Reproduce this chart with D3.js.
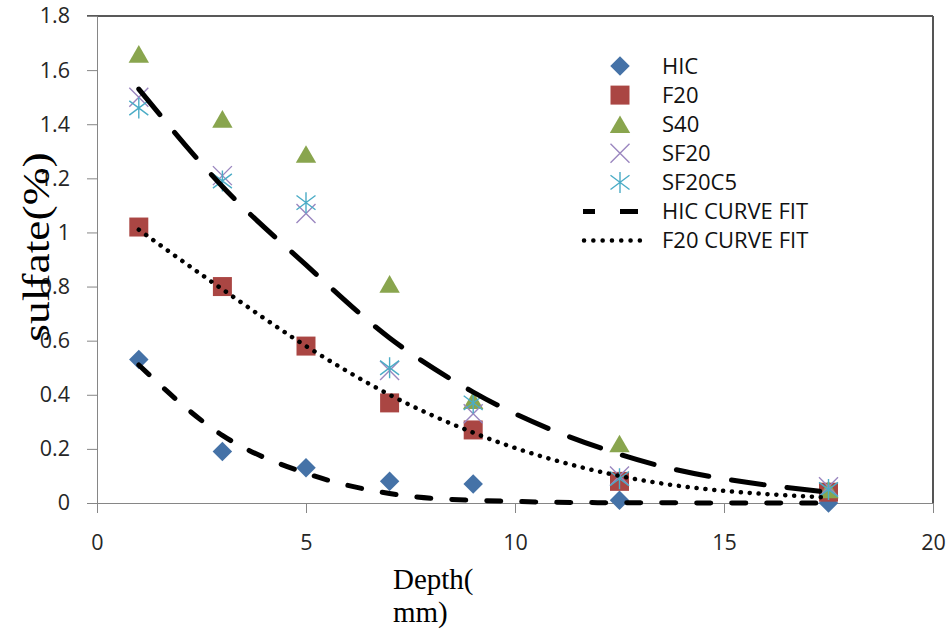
<!DOCTYPE html>
<html>
<head>
<meta charset="utf-8">
<script src="https://cdn.jsdelivr.net/npm/d3@7"></script>
<style>
  html, body { margin: 0; padding: 0; background: #fff; }
  svg { display: block; }
</style>
</head>
<body>
<svg id="chart" width="949" height="629"></svg>
<script>
// Sulfate content versus depth for each mix, with fitted curves
const depth   = [1, 3, 5, 7, 9, 12.5, 17.5];
const hic     = [0.53, 0.19, 0.13, 0.08, 0.07, 0.01, 0.00];
const f20     = [1.02, 0.80, 0.58, 0.37, 0.27, 0.08, 0.04];
const s40     = [1.66, 1.42, 1.29, 0.81, 0.38, 0.22, 0.05];
const sf20    = [1.50, 1.21, 1.07, 0.49, 0.33, 0.10, 0.06];
const sf20c5  = [1.46, 1.19, 1.11, 0.50, 0.37, 0.09, 0.05];
const hicFit  = [0.51, 0.25, 0.11, 0.035, 0.01, 0.001, 0.00];
const f20Fit  = [1.01, 0.79, 0.58, 0.40, 0.26, 0.10, 0.02];
const sfFit   = [1.53, 1.17, 0.88, 0.61, 0.41, 0.18, 0.04];

const xTicks = [0, 5, 10, 15, 20];
const yTicks = [0, 0.2, 0.4, 0.6, 0.8, 1, 1.2, 1.4, 1.6, 1.8];
const yTickLabels = ["0", "0.2", "0.4", "0.6", "0.8", "1", "1.2", "1.4", "1.6", "1.8"];

const legendNames = ["HIC", "F20", "S40", "SF20", "SF20C5", "HIC CURVE FIT", "F20 CURVE FIT"];

const svg = d3.select("#chart");
const plotLeft = 97, plotRight = 933, plotTop = 16, plotBottom = 503;

const x = d3.scaleLinear().domain([0, 20]).range([plotLeft, plotRight]);
const y = d3.scaleLinear().domain([0, 1.8]).range([plotBottom, plotTop]);

const tickFont = "'Open Sans', 'Liberation Sans', sans-serif";

// Plot frame: top and right edges
svg.append("line").attr("x1", plotLeft - 10).attr("x2", plotRight).attr("y1", plotTop).attr("y2", plotTop)
  .attr("stroke", "#222").attr("stroke-width", 1.5);
svg.append("line").attr("x1", plotRight).attr("x2", plotRight).attr("y1", plotTop).attr("y2", plotBottom)
  .attr("stroke", "#555").attr("stroke-width", 2);

// Y axis
const yAxis = d3.axisLeft(y).tickValues(yTicks).tickSize(10).tickPadding(17)
  .tickFormat((d, i) => yTickLabels[i]);
const gy = svg.append("g").attr("transform", `translate(${plotLeft},0)`).call(yAxis);
gy.select(".domain").attr("stroke", "#868686");
gy.selectAll(".tick line").attr("stroke", "#868686");
gy.selectAll(".tick text").attr("font-family", tickFont).attr("font-size", 21.5).attr("fill", "#262626");

// X axis
const xAxis = d3.axisBottom(x).tickValues(xTicks).tickSize(10).tickPadding(22)
  .tickFormat(d3.format("d"));
const gx = svg.append("g").attr("transform", `translate(0,${plotBottom})`).call(xAxis);
gx.select(".domain").attr("stroke", "#868686").attr("d", `M${plotLeft - 10},0.5H${plotRight}`);
gx.selectAll(".tick line").attr("stroke", "#868686");
gx.selectAll(".tick text").attr("font-family", tickFont).attr("font-size", 21.5).attr("fill", "#262626");

// Axis titles
svg.append("text")
  .attr("transform", "translate(49,247) rotate(-90) scale(1.23,1)")
  .attr("text-anchor", "middle")
  .attr("font-family", "'Liberation Serif', 'Times New Roman', serif")
  .attr("font-size", 37).attr("fill", "#000")
  .text("sulfate(%)");

const xTitle = svg.append("text")
  .attr("font-family", "'Liberation Serif', 'Times New Roman', serif")
  .attr("font-size", 29).attr("fill", "#000");
xTitle.append("tspan").attr("x", 393).attr("y", 589).text("Depth(");
xTitle.append("tspan").attr("x", 393).attr("y", 622).text("mm)");

// Marker drawers
const colors = { hic: "#4572A7", f20: "#AA4643", s40: "#89A54E", sf20: "#9A86BF", sf20c5: "#4BACC6" };

function diamond(g, cx, cy) {
  g.append("path").attr("d", d3.symbol(d3.symbolSquare, 190)())
    .attr("transform", `translate(${cx},${cy}) rotate(45)`).attr("fill", colors.hic);
}
function square(g, cx, cy) {
  g.append("path").attr("d", d3.symbol(d3.symbolSquare, 361)())
    .attr("transform", `translate(${cx},${cy})`).attr("fill", colors.f20);
}
function triangle(g, cx, cy) {
  // shift so the bounding box, not the centroid, sits on the point
  g.append("path").attr("d", d3.symbol(d3.symbolTriangle, 180)())
    .attr("transform", `translate(${cx},${cy + 3})`).attr("fill", colors.s40);
}
function cross(g, cx, cy) {
  const r = 9.5;
  g.append("path").attr("d", `M${cx - r},${cy - r}L${cx + r},${cy + r}M${cx - r},${cy + r}L${cx + r},${cy - r}`)
    .attr("stroke", colors.sf20).attr("stroke-width", 1.4).attr("fill", "none");
}
function star(g, cx, cy) {
  const r = 9.5;
  g.append("path").attr("d", `M${cx - r},${cy - r * 0.75}L${cx + r},${cy + r * 0.75}M${cx - r},${cy + r * 0.75}L${cx + r},${cy - r * 0.75}M${cx},${cy - r - 1}L${cx},${cy + r + 1}`)
    .attr("stroke", colors.sf20c5).attr("stroke-width", 1.4).attr("fill", "none");
}

const marks = svg.append("g");
const seriesList = [
  { values: hic, draw: diamond },
  { values: f20, draw: square },
  { values: s40, draw: triangle },
  { values: sf20, draw: cross },
  { values: sf20c5, draw: star }
];
seriesList.forEach(s => {
  s.values.forEach((v, i) => s.draw(marks, x(depth[i]), y(v)));
});

// Fitted curves
const line = d3.line().x((d, i) => x(depth[i])).y(d => y(d)).curve(d3.curveMonotoneX);
const curves = svg.append("g").attr("fill", "none").attr("stroke", "#000").attr("stroke-linecap", "round");
curves.append("path").attr("d", line(hicFit)).attr("stroke-width", 5).attr("stroke-dasharray", "14,21");
curves.append("path").attr("d", line(f20Fit)).attr("stroke-width", 4.5).attr("stroke-dasharray", "0.1,8.8");
curves.append("path").attr("d", line(sfFit)).attr("stroke-width", 5).attr("stroke-dasharray", "33,23");

// Legend
const legend = svg.append("g");
const lx = 620, ltx = 662, ly0 = 66, ldy = 29.1;
const legendDraw = [diamond, square, triangle, cross, star];
legendNames.forEach((name, i) => {
  const cy = ly0 + i * ldy;
  if (i < 5) {
    legendDraw[i](legend, lx, cy);
  } else if (i === 5) {
    legend.append("line").attr("x1", 583).attr("x2", 638).attr("y1", cy).attr("y2", cy)
      .attr("stroke", "#000").attr("stroke-width", 5).attr("stroke-dasharray", "12,25,18");
  } else {
    legend.append("line").attr("x1", 584).attr("x2", 640).attr("y1", cy).attr("y2", cy)
      .attr("stroke", "#000").attr("stroke-width", 4.5).attr("stroke-linecap", "round")
      .attr("stroke-dasharray", "0.1,9.2");
  }
  legend.append("text").attr("x", ltx).attr("y", cy).attr("dy", "0.35em")
    .attr("font-family", tickFont).attr("font-size", 22).attr("fill", "#111")
    .text(name);
});
</script>
</body>
</html>
